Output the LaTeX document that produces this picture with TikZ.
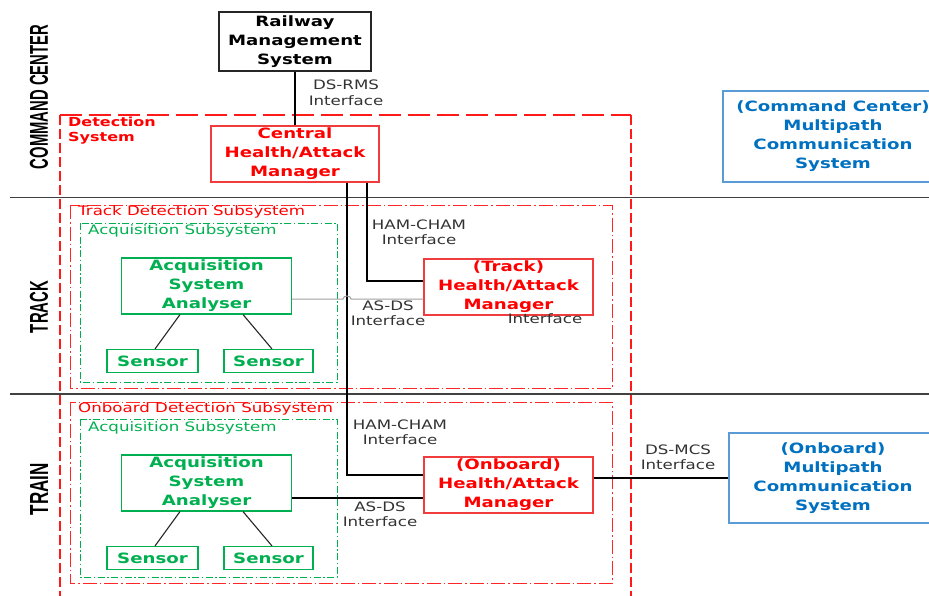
\documentclass[tikz,border=0pt]{standalone}
\usepackage{fontspec}
\usepackage{graphicx}
\setmainfont{DejaVu Sans}[FakeStretch=1.28]
\newfontfamily\headfont{Liberation Sans}
\definecolor{hamred}{HTML}{FF0000}
\definecolor{hamedge}{HTML}{F03C3C}
\definecolor{acqgreen}{HTML}{00B050}
\definecolor{mcsblue}{HTML}{0070C0}
\definecolor{mcsedge}{HTML}{5B9BD5}
\definecolor{sepgray}{HTML}{404040}
\definecolor{hopgray}{HTML}{A0A0A0}
\tikzset{
  unit/.style={draw, line width=1.1pt, fill=white, align=center, inner sep=0pt,
    font=\bfseries\fontsize{14.2}{19}\selectfont},
  hambox/.style={unit, draw=hamedge, text=hamred},
  acqbox/.style={unit, draw=acqgreen, text=acqgreen},
  mcsbox/.style={unit, draw=mcsedge, text=mcsblue},
  ifacelabel/.style={align=center, inner sep=0pt, text=black!80,
    font=\fontsize{13}{15.5}\selectfont},
  grouplabel/.style={anchor=west, inner sep=0pt, font=\fontsize{13}{15}\selectfont},
  zonelabel/.style={rotate=90, inner sep=0pt},
  wire/.style={line width=1.1pt, black},
  detecth/.style={draw=hamred!90, line width=1.2pt, dash pattern=on 22pt off 7pt},
  detectv/.style={draw=hamred!90, line width=1.2pt, dash pattern=on 10pt off 4pt},
  subframe/.style={draw=hamred!85, line width=0.9pt, dash pattern=on 14pt off 3pt on 1.5pt off 3pt},
  acqframe/.style={draw=acqgreen, line width=0.9pt, dash pattern=on 7pt off 2.5pt on 1.5pt off 2.5pt},
}
\begin{document}
\begin{tikzpicture}[x=1pt,y=-1pt]
\fill[white] (0,0) rectangle (929,595);
\useasboundingbox (0,0) rectangle (929,595);
\clip (0,0) rectangle (929,595);

% zone separators
\draw[sepgray, line width=1.3pt] (10,197.5) -- (929,197.5);
\draw[sepgray, line width=1.3pt] (10,394) -- (929,394);

% zone titles
\node[zonelabel] (zcc) at (39,97) {\resizebox{144pt}{18pt}{\headfont\bfseries COMMAND CENTER}};
\node[zonelabel] (ztr) at (39,307) {\resizebox{52pt}{18pt}{\headfont\bfseries TRACK}};
\node[zonelabel] (ztn) at (39,489) {\resizebox{52pt}{18pt}{\headfont\bfseries TRAIN}};

% frame of the detection system (open at the bottom edge)
\draw[detecth] (60,115) -- (631,115);
\draw[detectv] (60,115) -- (60,600);
\draw[detectv] (631,115) -- (631,600);
% frames of the subsystems
\draw[subframe] (70,205) rectangle (612,388);
\draw[subframe] (70,402) rectangle (612,583);
\draw[acqframe] (80,223) rectangle (337,382);
\draw[acqframe] (80,419) rectangle (337,577);

\node[grouplabel, text=hamred, font=\bfseries\fontsize{12.5}{15}\selectfont, align=left]
  (dslabel) at (68,130.5) {Detection\\System};
\node[grouplabel, text=hamred] (tdslabel) at (78,212) {Track Detection Subsystem};
\node[grouplabel, text=acqgreen] (tacqlabel) at (88,231) {Acquisition Subsystem};
\node[grouplabel, text=hamred] (odslabel) at (78,409) {Onboard Detection Subsystem};
\node[grouplabel, text=acqgreen] (oacqlabel) at (88,428) {Acquisition Subsystem};

% units
\node[unit, draw=black!85, text=black, minimum width=152pt, minimum height=59pt]
  (rms) at (295,41.5) {Railway\\Management\\System};
\node[hambox, minimum width=168pt, minimum height=56pt]
  (cham) at (295,154) {Central\\Health/Attack\\Manager};
\node[hambox, minimum width=169pt, minimum height=56pt]
  (tham) at (508.5,287) {(Track)\\Health/Attack\\Manager};
\node[hambox, minimum width=169pt, minimum height=56pt]
  (oham) at (508.5,485) {(Onboard)\\Health/Attack\\Manager};
\node[acqbox, minimum width=170pt, minimum height=56pt]
  (an1) at (206.5,286) {Acquisition\\System\\Analyser};
\node[acqbox, minimum width=170pt, minimum height=56pt]
  (an2) at (206.5,483) {Acquisition\\System\\Analyser};
\node[acqbox, minimum width=91pt, minimum height=23pt] (s1) at (152.5,361) {Sensor};
\node[acqbox, minimum width=89pt, minimum height=23pt] (s2) at (268.5,361) {Sensor};
\node[acqbox, minimum width=91pt, minimum height=23pt] (s3) at (152.5,558) {Sensor};
\node[acqbox, minimum width=89pt, minimum height=23pt] (s4) at (268.5,558) {Sensor};
\node[mcsbox, minimum width=220pt, minimum height=91pt]
  (ccmcs) at (833,136.5) {(Command Center)\\Multipath\\Communication\\System};
\node[mcsbox, minimum width=208pt, minimum height=90pt]
  (omcs) at (833,478) {(Onboard)\\Multipath\\Communication\\System};

% interface labels
\node[ifacelabel] (lrms) at (346,93) {DS-RMS\\Interface};
\node[ifacelabel] (lhc1) at (419,232.5) {HAM-CHAM\\Interface};
\node[ifacelabel] (lasds1) at (388,313.5) {AS-DS\\Interface};
\node[ifacelabel] (lextra) at (545,319) {Interface};
\node[ifacelabel] (lhc2) at (400,432.5) {HAM-CHAM\\Interface};
\node[ifacelabel] (lasds2) at (380,514.5) {AS-DS\\Interface};
\node[ifacelabel] (lmcs) at (678,457.5) {DS-MCS\\Interface};

% connector bend points
\coordinate (jo) at (347,475);
\coordinate (jt) at (367,281);
\coordinate (hop) at (347,299);
\coordinate (ja2) at (347,498);
\coordinate (jm) at (660,478);

% connectors
\draw[wire] (rms.south) -- (cham.north);
\draw[wire] (cham.south -| jo) |- (oham.west |- jo);
\draw[wire] (cham.south -| jt) |- (tham.west |- jt);
\draw[hopgray, line width=1pt] (an1.east |- hop) -- ([xshift=-4pt]hop)
  .. controls ([xshift=-4pt,yshift=4pt]hop) and ([xshift=4pt,yshift=4pt]hop) .. ([xshift=4pt]hop)
  -- (tham.west |- hop);
\draw[wire] (an2.east |- ja2) -- (oham.west |- ja2);
\draw[wire] (oham.east |- jm) -- (omcs.west |- jm);

\draw[wire, black!85] ([xshift=-26.5pt]an1.south) -- ([xshift=2.5pt]s1.north);
\draw[wire, black!85] ([xshift=36.5pt]an1.south) -- ([xshift=3.5pt]s2.north);
\draw[wire, black!85] ([xshift=-26.5pt]an2.south) -- ([xshift=2.5pt]s3.north);
\draw[wire, black!85] ([xshift=36.5pt]an2.south) -- ([xshift=3.5pt]s4.north);
\end{tikzpicture}
\end{document}
